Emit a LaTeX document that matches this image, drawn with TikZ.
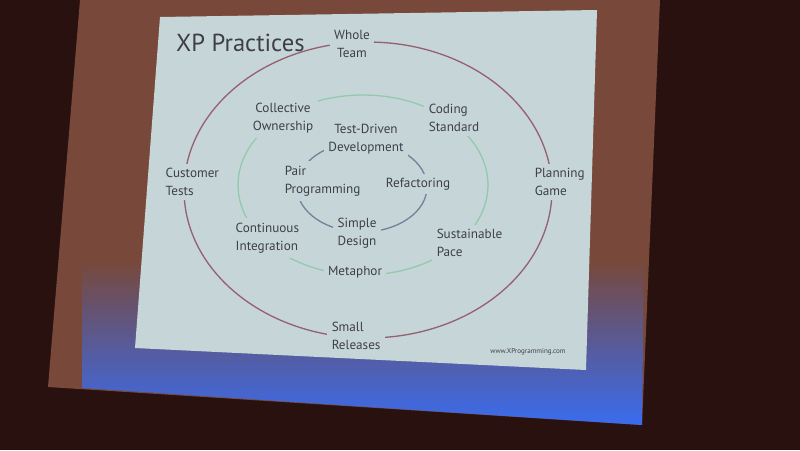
\documentclass[tikz,border=0pt]{standalone}
\usepackage{fontspec}
\newfontfamily\handfont{PT Sans}
\usepackage{tikz}
\definecolor{wall}{RGB}{40,17,15}
\definecolor{screenbrown}{RGB}{120,72,58}
\definecolor{beampurple}{RGB}{118,70,198}
\definecolor{beamblue}{RGB}{58,108,240}
\definecolor{slidebg}{RGB}{198,214,216}
\definecolor{inkgrey}{RGB}{62,62,74}
\definecolor{outerred}{RGB}{150,96,112}
\definecolor{midgreen}{RGB}{150,200,172}
\definecolor{innerblue}{RGB}{118,128,155}

\begin{document}
\begin{tikzpicture}[x=0.02cm,y=-0.02cm]
\tikzset{practice/.style = {font=\handfont\fontsize{7.5}{10.5}\selectfont, text=inkgrey, fill=slidebg, inner sep=2.5pt, align=left}}
\tikzset{ring/.style = {line width=0.75pt}}
\useasboundingbox (0,0) rectangle (800,450);
% room and screen
\fill[wall] (0,0) rectangle (800,450);
\fill[screenbrown] (80,0) -- (660,0) -- (642,425) -- (48,387) -- cycle;
\shade[top color=screenbrown, middle color=beampurple, bottom color=beamblue]
  (82,260) -- (644,260) -- (642,425) -- (82,388) -- cycle;
\fill[slidebg] (160,17) -- (597,10) -- (586,370) -- (135,348) -- cycle;
% rings
\draw[ring, outerred] (368,190) ellipse [x radius=3.68cm, y radius=2.96cm];
\draw[ring, midgreen] (363,185) ellipse [x radius=2.5cm, y radius=1.8cm];
\draw[ring, innerblue] (362,187) ellipse [x radius=1.3cm, y radius=0.9cm];
% title
\node[text=inkgrey, font=\handfont\fontsize{14}{16}\selectfont, anchor=west] (title) at (170,43) {XP Practices};
% practices
\node[practice, align=center] (whole) at (352,44) {Whole\\Team};
\node[practice, align=center] (collective) at (283,118) {Collective\\Ownership};
\node[practice, anchor=west] (coding) at (424,118) {Coding\\Standard};
\node[practice, align=center] (tdd) at (366,139) {Test-Driven\\Development};
\node[practice, anchor=west] (customer) at (161,182) {Customer\\Tests};
\node[practice, anchor=west] (planning) at (530,182) {Planning\\Game};
\node[practice, anchor=west] (pair) at (280,181) {Pair\\Programming};
\node[practice] (refactoring) at (418,184) {Refactoring};
\node[practice, anchor=west] (continuous) at (231,238) {Continuous\\Integration};
\node[practice, align=center] (simple) at (357,233) {Simple\\Design};
\node[practice, anchor=west] (sustainable) at (432,243) {Sustainable\\Pace};
\node[practice] (metaphor) at (355,272) {Metaphor};
\node[practice, anchor=west] (small) at (327,336) {Small\\Releases};
\node[text=inkgrey, font=\handfont\fontsize{4}{5}\selectfont] (url) at (528,352) {www.XProgramming.com};
\end{tikzpicture}
\end{document}
